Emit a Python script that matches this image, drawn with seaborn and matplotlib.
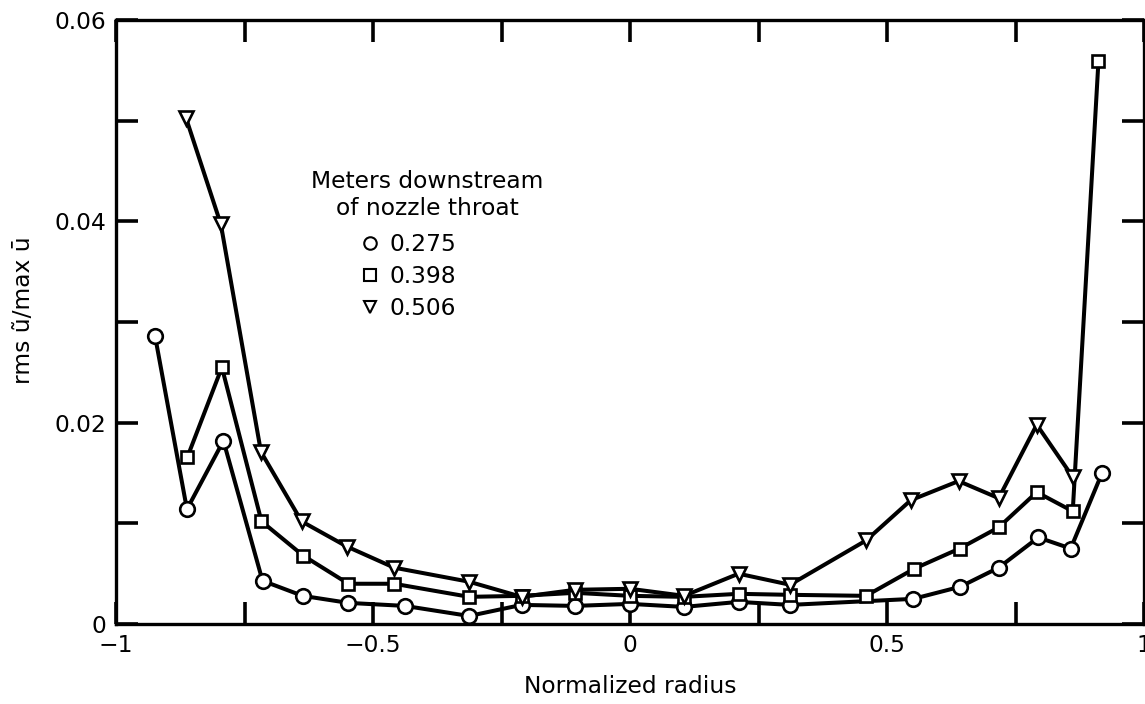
import matplotlib
matplotlib.use("Agg")
import matplotlib.pyplot as plt
from matplotlib.lines import Line2D
import seaborn as sns
import pandas as pd

# Normalized radius positions and rms fluctuation ratios for each station
x_0275 = [-0.924, -0.862, -0.791, -0.715, -0.637, -0.548, -0.438, -0.313, -0.211, -0.107,
          0.0, 0.105, 0.211, 0.311, 0.551, 0.642, 0.717, 0.794, 0.857, 0.918]
y_0275 = [0.0286, 0.0114, 0.0182, 0.0043, 0.0028, 0.0021, 0.0018, 0.0008, 0.0019, 0.0018,
          0.0020, 0.0017, 0.0022, 0.0019, 0.0025, 0.0037, 0.0056, 0.0086, 0.0075, 0.0150]

x_0398 = [-0.861, -0.794, -0.717, -0.636, -0.548, -0.459, -0.313, -0.211, -0.107, 0.0,
          0.105, 0.211, 0.311, 0.459, 0.553, 0.641, 0.717, 0.791, 0.861, 0.911]
y_0398 = [0.0166, 0.0255, 0.0102, 0.0068, 0.0040, 0.0040, 0.0027, 0.0028, 0.0031, 0.0028,
          0.0027, 0.0030, 0.0029, 0.0028, 0.0055, 0.0075, 0.0096, 0.0131, 0.0112, 0.0559]

x_0506 = [-0.864, -0.796, -0.718, -0.639, -0.551, -0.459, -0.313, -0.211, -0.107, 0.0,
          0.105, 0.211, 0.311, 0.459, 0.546, 0.639, 0.717, 0.791, 0.861]
y_0506 = [0.0503, 0.0397, 0.0171, 0.0102, 0.0077, 0.0056, 0.0042, 0.0027, 0.0034, 0.0035,
          0.0028, 0.0050, 0.0039, 0.0083, 0.0123, 0.0142, 0.0125, 0.0198, 0.0146]

station_labels = ["0.275", "0.398", "0.506"]
station_markers = ["o", "s", "v"]

x_ticks = [-1, -0.75, -0.5, -0.25, 0, 0.25, 0.5, 0.75, 1]
x_ticklabels = ["\u22121", "", "\u22120.5", "", "0", "", "0.5", "", "1"]
y_ticks = [0, 0.01, 0.02, 0.03, 0.04, 0.05, 0.06]
y_ticklabels = ["0", "", "0.02", "", "0.04", "", "0.06"]

sns.set_theme(style="white")
plt.rcParams["font.family"] = ["DejaVu Sans"]
plt.rcParams["text.color"] = "black"

FS = 16.8

fig = plt.figure(figsize=(11.45, 7.04), dpi=100)
ax = fig.add_axes([0.1013, 0.1136, 0.898, 0.858])

series = [(x_0275, y_0275), (x_0398, y_0398), (x_0506, y_0506)]
marker_sizes = {"o": 10.5, "s": 9, "v": 10}
for (xs, ys), lab, mk in zip(series, station_labels, station_markers):
    df = pd.DataFrame({"r": xs, "v": ys})
    sns.lineplot(data=df, x="r", y="v", ax=ax, color="black", linewidth=2.9,
                 marker=mk, markersize=marker_sizes[mk], markerfacecolor="white",
                 markeredgecolor="black", markeredgewidth=1.9, legend=False)

ax.set_xlim(-1, 1)
ax.set_ylim(0, 0.06)
ax.set_xticks(x_ticks)
ax.set_xticklabels(x_ticklabels)
ax.set_yticks(y_ticks)
ax.set_yticklabels(y_ticklabels)
ax.tick_params(direction="in", length=16, width=2.6, color="black",
               left=True, bottom=True, top=True, right=True,
               labelsize=FS, pad=7, labelcolor="black")
for sp in ax.spines.values():
    sp.set_linewidth(2.4)
    sp.set_color("black")

ax.set_xlabel("Normalized radius", fontsize=FS, color="black", labelpad=13)
ax.set_ylabel("rms \u0169/max \u016b", fontsize=FS, color="black")
ax.yaxis.set_label_coords(-0.079, 0.52)

# Legend heading, centred above the marker key
ax.text(0.3025, 0.7105, "Meters downstream\nof nozzle throat", transform=ax.transAxes,
        ha="center", va="center", multialignment="center", fontsize=FS,
        linespacing=1.2, color="black")

handles = [Line2D([], [], linestyle="none", marker=mk, markersize=9,
                  markerfacecolor="white", markeredgecolor="black", markeredgewidth=1.5)
           for mk in station_markers]
ax.legend(handles, station_labels, loc="upper left", bbox_to_anchor=(0.238, 0.647),
          frameon=False, fontsize=FS, handletextpad=0.42, handlelength=0.8,
          labelspacing=0.39, borderaxespad=0, borderpad=0, labelcolor="black")

fig.savefig("out.png", dpi=100)
